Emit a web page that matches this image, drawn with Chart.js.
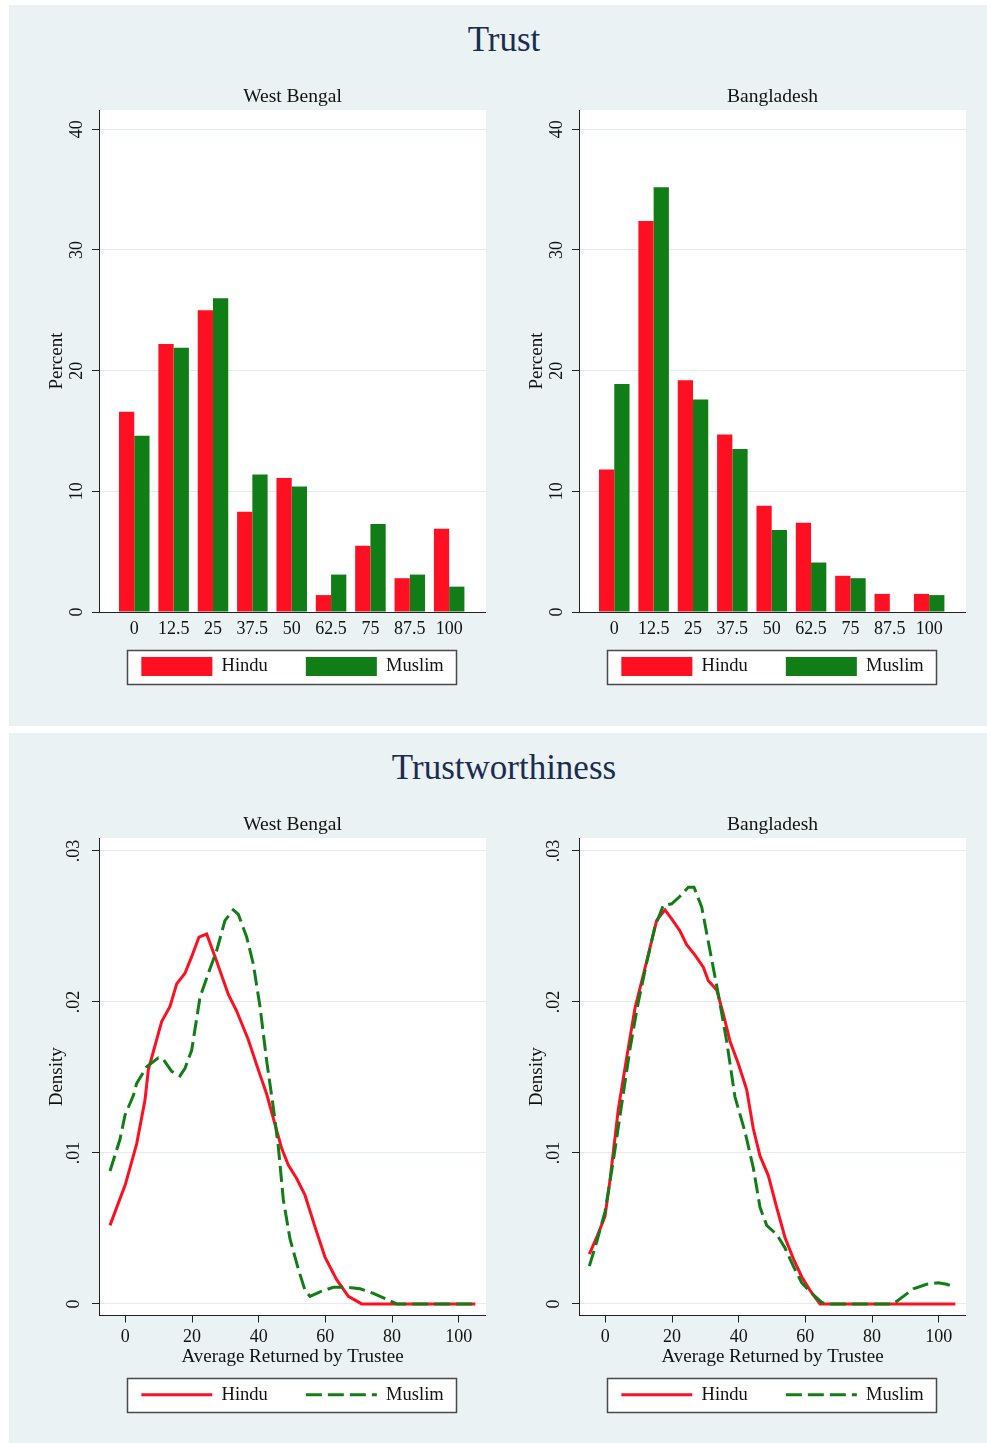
<!DOCTYPE html>
<html>
<head>
<meta charset="utf-8">
<title>Trust and Trustworthiness</title>
<script src="https://cdn.jsdelivr.net/npm/chart.js@4.4.1/dist/chart.umd.min.js"></script>
<style>
  body { margin: 0; background: #fff; width: 987px; height: 1443px; position: relative; overflow: hidden;
         font-family: 'Liberation Serif', 'Times New Roman', serif; }
  .panel { position: absolute; left: 9px; width: 978px; background: #eaf2f3; }
  .ptitle { position: absolute; left: 9px; width: 990px; text-align: center; font-size: 35px; line-height: 40px; color: #1c2b50; }
  canvas { position: absolute; }
</style>
</head>
<body>
<div class="panel" style="top:5px;height:721px"></div>
<div class="panel" style="top:733px;height:710px"></div>
<div class="ptitle" style="top:20px">Trust</div>
<div class="ptitle" style="top:748px">Trustworthiness</div>

<canvas id="trustWB" style="left:20px;top:78px" width="466" height="608"></canvas>
<canvas id="trustBD" style="left:500px;top:78px" width="466" height="608"></canvas>
<canvas id="worthWB" style="left:20px;top:806px" width="466" height="608"></canvas>
<canvas id="worthBD" style="left:500px;top:806px" width="466" height="608"></canvas>

<script>
// amount sent (trust game), percent of senders
const trustCats = [0, 12.5, 25, 37.5, 50, 62.5, 75, 87.5, 100];
const wbTrustHindu  = [16.6, 22.2, 25.0, 8.3, 11.1, 1.4, 5.5, 2.8, 6.9];
const wbTrustMuslim = [14.6, 21.9, 26.0, 11.4, 10.4, 3.1, 7.3, 3.1, 2.1];
const bdTrustHindu  = [11.8, 32.4, 19.2, 14.7, 8.8, 7.4, 3.0, 1.5, 1.5];
const bdTrustMuslim = [18.9, 35.2, 17.6, 13.5, 6.8, 4.1, 2.8, 0, 1.4];
const pctTicks = [0, 10, 20, 30, 40];

// kernel densities of average returned by trustee: [x, density]
const wbWorthHindu = [[-4.6,.0052],[0,.0079],[3.4,.0106],[5.9,.0135],[6.9,.0155],[10.9,.0187],[13.4,.0197],
  [15.4,.0212],[17.9,.0219],[19.9,.0230],[22.1,.0243],[24.4,.0245],[27.4,.0227],[30.9,.0205],[33.4,.0194],
  [36.9,.0175],[39.9,.0155],[42.4,.0139],[45.9,.0111],[46.9,.0103],[48.9,.0092],[51.4,.0083],[53.9,.0072],
  [56.9,.0051],[59.9,.0031],[63.4,.0016],[66.9,.0005],[70.9,0],[105,0]];
const wbWorthMuslim = [[-4.6,.0088],[-1.6,.0109],[-0.1,.0125],[2.4,.0138],[3.4,.0146],[6.4,.0157],[9.9,.0163],
  [11.4,.0162],[13.9,.0154],[16.4,.0151],[17.9,.0156],[19.9,.0168],[22.4,.0203],[24.9,.0219],[27.4,.0234],
  [29.9,.0254],[32.4,.0261],[33.9,.0258],[36.4,.0243],[38.4,.0225],[40.4,.0197],[42.4,.0161],[44.4,.0130],
  [45.9,.0104],[47.4,.0069],[49.4,.0043],[51.9,.0023],[53.9,.0009],[55.4,.0005],[58.4,.0008],[62.4,.0011],
  [66.4,.0011],[70.4,.0010],[74.4,.0007],[78.4,.0003],[81.4,0],[105,0]];
const bdWorthHindu = [[-4.8,.0033],[-2.6,.0044],[-0.1,.0058],[1.4,.0082],[3.9,.0129],[6.4,.0163],[8.9,.0196],
  [11.4,.0218],[15.4,.0254],[17.9,.0261],[19.9,.0255],[22.4,.0247],[24.4,.0238],[26.9,.0231],[29.4,.0223],
  [30.9,.0214],[33.4,.0208],[35.4,.0192],[37.4,.0174],[39.9,.0159],[42.4,.0142],[44.4,.0116],[46.4,.0098],
  [48.9,.0085],[51.4,.0064],[53.9,.0044],[56.4,.0030],[58.9,.0018],[61.4,.0009],[64.4,0],[105,0]];
const bdWorthMuslim = [[-4.8,.0025],[-2.6,.0041],[-0.1,.0061],[2.4,.0095],[4.9,.0132],[7.4,.0169],[9.9,.0200],
  [12.4,.0226],[14.9,.0250],[17.4,.0264],[19.9,.0265],[22.4,.0270],[24.9,.0276],[26.6,.0276],[28.9,.0263],
  [31.4,.0234],[33.9,.0205],[36.4,.0174],[38.9,.0137],[41.9,.0114],[44.4,.0090],[46.4,.0064],[48.4,.0052],
  [51.4,.0046],[53.9,.0037],[56.4,.0025],[58.9,.0014],[61.9,.0007],[64.9,.0001],[66.4,0],[86.4,0],
  [89.4,.0005],[92.4,.0010],[96.4,.0013],[99.9,.0014],[102.4,.0013],[104.9,.0011]];
const densityTicks = [0, 0.01, 0.02, 0.03];
const returnTicks = [0, 20, 40, 60, 80, 100];

const RED = '#fe0f21';
const GREEN = '#107d16';
const AXIS = '#222';
const GRID = '#e3ebee';
const TEXT = '#111';

Chart.defaults.font.family = "'Liberation Serif', 'Times New Roman', serif";
Chart.defaults.color = TEXT;

// white plot region + boxed legend, Stata style
const frame = {
  id: 'frame',
  beforeDraw(chart) {
    const { ctx, chartArea: a, legend } = chart;
    ctx.save();
    ctx.fillStyle = '#fff';
    ctx.fillRect(a.left, a.top, a.right - a.left, a.bottom - a.top);
    const boxes = legend && legend.legendHitBoxes;
    if (boxes && boxes.length) {
      const first = boxes[0], last = boxes[boxes.length - 1];
      const x0 = Math.round(first.left - 14) + 0.5;
      const x1 = Math.round(last.left + last.width + 12) + 0.5;
      const cy = Math.round(first.top + first.height / 2);
      ctx.fillRect(x0, cy - 17, x1 - x0, 34);
      ctx.strokeStyle = '#4a4a4a';
      ctx.lineWidth = 1.5;
      ctx.strokeRect(x0, cy - 16.5, x1 - x0, 34);
    }
    ctx.restore();
  }
};

function yAxis(min, max, ticks, title, fmt) {
  return {
    min: min, max: max,
    afterBuildTicks: s => { s.ticks = ticks.map(v => ({ value: v })); },
    afterFit: s => { s.width = 79; },
    grid: { color: GRID, tickColor: AXIS, tickLength: 7 },
    border: { color: AXIS, width: 1 },
    ticks: { minRotation: 90, maxRotation: 90, crossAlign: 'center', padding: 6, font: { size: 18 }, color: TEXT, callback: fmt },
    title: { display: true, text: title, color: TEXT, font: { size: 19, lineHeight: '22px' }, padding: { top: 26, bottom: 0 } }
  };
}

function subTitle(text) {
  return { display: true, text: text, fullSize: false, color: TEXT,
           font: { size: 19.5, weight: 'normal', lineHeight: '22px' }, padding: { top: 8, bottom: 2 } };
}

function trustChart(id, region, hindu, muslim) {
  return new Chart(document.getElementById(id), {
    type: 'bar',
    data: {
      datasets: [
        { label: 'Hindu', data: trustCats.map((c, i) => ({ x: c, y: hindu[i] })), backgroundColor: RED,
          borderWidth: 0, categoryPercentage: 0.775, barPercentage: 1 },
        { label: 'Muslim', data: trustCats.map((c, i) => ({ x: c, y: muslim[i] })), backgroundColor: GREEN,
          borderWidth: 0, categoryPercentage: 0.775, barPercentage: 1 }
      ]
    },
    options: {
      responsive: false,
      animation: false,
      events: [],
      scales: {
        x: {
          type: 'linear', min: -11.2, max: 111.7, offset: false,
          afterBuildTicks: s => { s.ticks = trustCats.map(v => ({ value: v })); },
          afterFit: s => { s.height = 30; },
          grid: { display: false, drawTicks: false, offset: false },
          border: { color: AXIS, width: 1 },
          ticks: { color: TEXT, font: { size: 18 }, padding: 6, maxRotation: 0, autoSkip: false, callback: v => String(v) }
        },
        y: yAxis(0, 41.6, pctTicks, 'Percent', v => String(v))
      },
      plugins: {
        title: subTitle(region),
        legend: {
          position: 'bottom', fullSize: false,
          // empty title with negative padding pulls the row up under the axis labels
          title: { display: true, text: '', font: { size: 1, lineHeight: '1px' }, padding: { top: 0, bottom: -24 } },
          labels: { boxWidth: 71, boxHeight: 19, padding: 38, color: TEXT, font: { size: 18.5 } }
        },
        tooltip: { enabled: false }
      }
    },
    plugins: [frame]
  });
}

// point-style legend items take the point style, so copy the line's dash back in
function lineLegendLabels(chart) {
  return Chart.defaults.plugins.legend.labels.generateLabels(chart).map(item => {
    const ds = chart.data.datasets[item.datasetIndex];
    item.lineDash = ds.borderDash || [];
    item.lineWidth = ds.borderWidth;
    item.strokeStyle = ds.borderColor;
    return item;
  });
}

function worthChart(id, region, hindu, muslim) {
  const pts = arr => arr.map(p => ({ x: p[0], y: p[1] }));
  return new Chart(document.getElementById(id), {
    type: 'line',
    data: {
      datasets: [
        { label: 'Hindu', data: pts(hindu), borderColor: RED, backgroundColor: RED, borderWidth: 3,
          pointRadius: 0, tension: 0, fill: false, order: 1 },
        { label: 'Muslim', data: pts(muslim), borderColor: GREEN, backgroundColor: GREEN, borderWidth: 3,
          borderDash: [16, 6], pointRadius: 0, tension: 0, fill: false, order: 0 }
      ]
    },
    options: {
      responsive: false,
      animation: false,
      events: [],
      scales: {
        x: {
          type: 'linear', min: -7.9, max: 108.2,
          afterBuildTicks: s => { s.ticks = returnTicks.map(v => ({ value: v })); },
          afterFit: s => { s.height = 32; },
          grid: { drawOnChartArea: false, tickColor: AXIS, tickLength: 7 },
          border: { color: AXIS, width: 1 },
          ticks: { color: TEXT, font: { size: 18 }, padding: 4, maxRotation: 0, autoSkip: false },
          title: { display: true, text: 'Average Returned by Trustee', color: TEXT,
                   font: { size: 19, lineHeight: '22px' }, padding: { top: 0, bottom: -21 } }
        },
        y: yAxis(-0.00077, 0.03086, densityTicks, 'Density',
                 v => v === 0 ? '0' : v.toFixed(2).replace(/^0/, ''))
      },
      plugins: {
        title: subTitle(region),
        legend: {
          position: 'bottom', fullSize: false,
          labels: { usePointStyle: true, pointStyle: 'line', pointStyleWidth: 71, padding: 38,
                    color: TEXT, font: { size: 18.5 }, generateLabels: lineLegendLabels,
                    sort: (a, b) => a.datasetIndex - b.datasetIndex }
        },
        tooltip: { enabled: false }
      }
    },
    plugins: [frame]
  });
}

trustChart('trustWB', 'West Bengal', wbTrustHindu, wbTrustMuslim);
trustChart('trustBD', 'Bangladesh', bdTrustHindu, bdTrustMuslim);
worthChart('worthWB', 'West Bengal', wbWorthHindu, wbWorthMuslim);
worthChart('worthBD', 'Bangladesh', bdWorthHindu, bdWorthMuslim);
</script>
</body>
</html>
